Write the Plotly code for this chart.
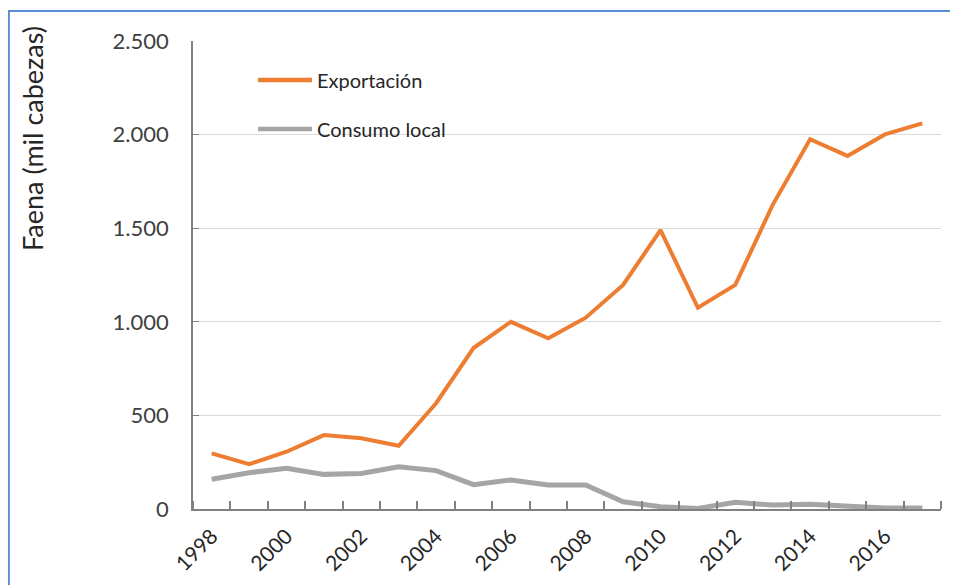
import plotly.graph_objects as go

years = list(range(1998, 2018))
exportacion = [297, 239, 306, 395, 378, 338, 565, 860, 1000, 912, 1022, 1197, 1490, 1075, 1197, 1625, 1975, 1886, 2001, 2060]
consumo_local = [159, 194, 217, 185, 190, 226, 205, 130, 155, 128, 128, 39, 12, 3, 36, 21, 25, 12, 5, 5]
y_ticks = [0, 500, 1000, 1500, 2000, 2500]
y_tick_labels = ["0", "500", "1.000", "1.500", "2.000", "2.500"]
x_label_years = list(range(1998, 2018, 2))
series_names = ["Exportación", "Consumo local"]
y_title = "Faena (mil cabezas)"
colors = ["#ED7D31", "#A5A5A5"]

FONT = "Lato"
fig = go.Figure()
fig.add_trace(go.Scatter(x=years, y=exportacion, mode="lines", name=series_names[0],
                         line=dict(color=colors[0], width=4), showlegend=False))
fig.add_trace(go.Scatter(x=years, y=consumo_local, mode="lines", name=series_names[1],
                         line=dict(color=colors[1], width=5), showlegend=False))

# custom legend (long line samples)
legend_y = [0.9167, 0.812]
for name, col, ly in zip(series_names, colors, legend_y):
    fig.add_shape(type="line", xref="paper", yref="paper", x0=0.087, x1=0.159, y0=ly, y1=ly,
                  line=dict(color=col, width=4.5))
    fig.add_annotation(xref="paper", yref="paper", x=0.163, y=ly, text=name, showarrow=False,
                       xanchor="left", yanchor="middle", font=dict(family=FONT, size=20, color="#262626"))

# y-axis title placed near the top like the original
fig.add_annotation(xref="paper", yref="paper", x=-0.2139, y=0.7906, text=y_title, showarrow=False,
                   textangle=-90, xanchor="center", yanchor="middle",
                   font=dict(family=FONT, size=27, color="#262626"))

# outer blue frame
fig.add_shape(type="rect", xref="paper", yref="paper", x0=-0.2462, x1=1.03, y0=-0.2, y1=1.064,
              line=dict(color="#5B8BD0", width=2), layer="below")

fig.update_layout(
    width=950, height=577,
    margin=dict(l=185, r=17, t=33, b=76),
    paper_bgcolor="white", plot_bgcolor="white",
    font=dict(family=FONT, size=21, color="#404040"),
    xaxis=dict(range=[1997.5, 2017.5], tickmode="array", tickvals=x_label_years,
               ticktext=[str(y) for y in x_label_years], tickangle=-45, ticks="",
               showline=True, linecolor="#808080", linewidth=1.5, showgrid=False, zeroline=False,
               ticklabelstandoff=5, automargin=False,
               tickfont=dict(family=FONT, size=21, color="#262626"),
               minor=dict(tick0=1997.5, dtick=1, ticks="inside", ticklen=8, tickcolor="#808080",
                          tickwidth=1.5, showgrid=False)),
    yaxis=dict(range=[0, 2500], tickmode="array", tickvals=y_ticks, ticktext=y_tick_labels,
               showline=True, linecolor="#808080", linewidth=1.5, showgrid=True,
               gridcolor="#D9D9D9", gridwidth=1, zeroline=False, ticks="inside", ticklen=6,
               tickcolor="#808080", ticklabelstandoff=18, automargin=False,
               tickfont=dict(family=FONT, size=22, color="#404040")),
)

fig.write_html("out.html")
